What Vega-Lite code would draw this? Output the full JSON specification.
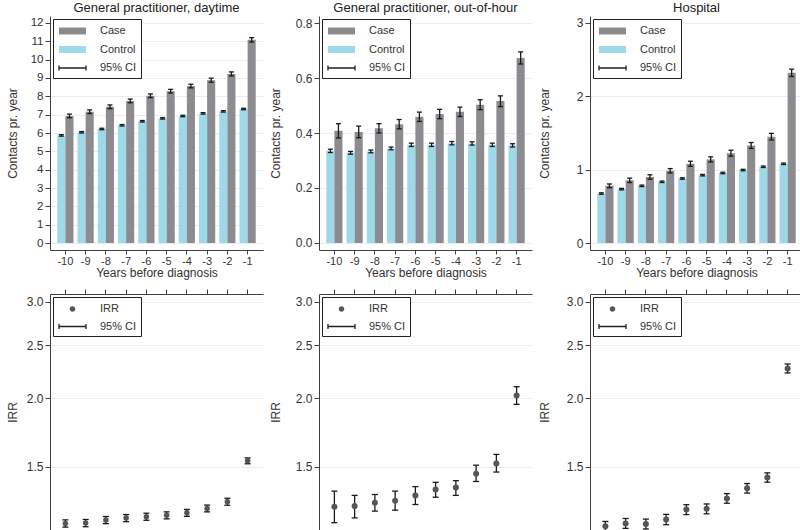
{
  "$schema": "https://vega.github.io/schema/vega-lite/v6.json",
  "padding": {"left": 6, "top": 2, "right": 0, "bottom": 0},
  "config": {
    "font": "Liberation Sans",
    "view": {"stroke": null},
    "axis": {"domainColor": "#404040", "tickColor": "#404040", "labelColor": "#333333", "titleColor": "#333333", "labelFontSize": 12, "titleFontSize": 12, "titleFontWeight": "normal", "tickSize": 5, "gridColor": "#ececec", "labelPadding": 2, "labelOverlap": false},
    "axisX": {"grid": false, "labelAngle": 0},
    "title": {"fontSize": 13, "fontWeight": "normal", "color": "#222222", "offset": 1},
    "legend": {"orient": "top-left", "offset": 3, "title": null, "strokeColor": "#222222", "fillColor": "white", "padding": 4, "symbolSize": 196, "labelOffset": 27, "rowPadding": 3.5, "labelFontSize": 11, "labelColor": "#333333"}
  },
  "datasets": {
    "gpd": [
      {"year": -10, "group": "Control", "value": 5.87, "lo": 5.83, "hi": 5.91}, {"year": -10, "group": "Case", "value": 6.93, "lo": 6.83, "hi": 7.03},
      {"year": -9, "group": "Control", "value": 6.04, "lo": 6.0, "hi": 6.08}, {"year": -9, "group": "Case", "value": 7.16, "lo": 7.06, "hi": 7.26},
      {"year": -8, "group": "Control", "value": 6.22, "lo": 6.18, "hi": 6.26}, {"year": -8, "group": "Case", "value": 7.43, "lo": 7.33, "hi": 7.53},
      {"year": -7, "group": "Control", "value": 6.42, "lo": 6.38, "hi": 6.46}, {"year": -7, "group": "Case", "value": 7.75, "lo": 7.65, "hi": 7.85},
      {"year": -6, "group": "Control", "value": 6.64, "lo": 6.6, "hi": 6.68}, {"year": -6, "group": "Case", "value": 8.03, "lo": 7.93, "hi": 8.13},
      {"year": -5, "group": "Control", "value": 6.8, "lo": 6.76, "hi": 6.84}, {"year": -5, "group": "Case", "value": 8.28, "lo": 8.18, "hi": 8.38},
      {"year": -4, "group": "Control", "value": 6.93, "lo": 6.89, "hi": 6.97}, {"year": -4, "group": "Case", "value": 8.56, "lo": 8.46, "hi": 8.66},
      {"year": -3, "group": "Control", "value": 7.07, "lo": 7.03, "hi": 7.11}, {"year": -3, "group": "Case", "value": 8.88, "lo": 8.77, "hi": 8.99},
      {"year": -2, "group": "Control", "value": 7.18, "lo": 7.14, "hi": 7.22}, {"year": -2, "group": "Case", "value": 9.22, "lo": 9.11, "hi": 9.33},
      {"year": -1, "group": "Control", "value": 7.31, "lo": 7.27, "hi": 7.35}, {"year": -1, "group": "Case", "value": 11.08, "lo": 10.96, "hi": 11.2}
    ],
    "gpo": [
      {"year": -10, "group": "Control", "value": 0.335, "lo": 0.329, "hi": 0.341}, {"year": -10, "group": "Case", "value": 0.408, "lo": 0.382, "hi": 0.434},
      {"year": -9, "group": "Control", "value": 0.328, "lo": 0.323, "hi": 0.333}, {"year": -9, "group": "Case", "value": 0.404, "lo": 0.383, "hi": 0.425},
      {"year": -8, "group": "Control", "value": 0.333, "lo": 0.328, "hi": 0.338}, {"year": -8, "group": "Case", "value": 0.417, "lo": 0.4, "hi": 0.434},
      {"year": -7, "group": "Control", "value": 0.344, "lo": 0.339, "hi": 0.349}, {"year": -7, "group": "Case", "value": 0.432, "lo": 0.415, "hi": 0.449},
      {"year": -6, "group": "Control", "value": 0.357, "lo": 0.351, "hi": 0.363}, {"year": -6, "group": "Case", "value": 0.459, "lo": 0.442, "hi": 0.476},
      {"year": -5, "group": "Control", "value": 0.357, "lo": 0.351, "hi": 0.363}, {"year": -5, "group": "Case", "value": 0.469, "lo": 0.452, "hi": 0.486},
      {"year": -4, "group": "Control", "value": 0.363, "lo": 0.357, "hi": 0.369}, {"year": -4, "group": "Case", "value": 0.477, "lo": 0.46, "hi": 0.494},
      {"year": -3, "group": "Control", "value": 0.362, "lo": 0.356, "hi": 0.368}, {"year": -3, "group": "Case", "value": 0.503, "lo": 0.485, "hi": 0.521},
      {"year": -2, "group": "Control", "value": 0.357, "lo": 0.351, "hi": 0.363}, {"year": -2, "group": "Case", "value": 0.516, "lo": 0.496, "hi": 0.535},
      {"year": -1, "group": "Control", "value": 0.355, "lo": 0.349, "hi": 0.361}, {"year": -1, "group": "Case", "value": 0.673, "lo": 0.651, "hi": 0.695}
    ],
    "hos": [
      {"year": -10, "group": "Control", "value": 0.675, "lo": 0.665, "hi": 0.685}, {"year": -10, "group": "Case", "value": 0.78, "lo": 0.755, "hi": 0.805},
      {"year": -9, "group": "Control", "value": 0.735, "lo": 0.725, "hi": 0.745}, {"year": -9, "group": "Case", "value": 0.855, "lo": 0.825, "hi": 0.885},
      {"year": -8, "group": "Control", "value": 0.78, "lo": 0.77, "hi": 0.79}, {"year": -8, "group": "Case", "value": 0.9, "lo": 0.87, "hi": 0.93},
      {"year": -7, "group": "Control", "value": 0.835, "lo": 0.825, "hi": 0.845}, {"year": -7, "group": "Case", "value": 0.985, "lo": 0.955, "hi": 1.015},
      {"year": -6, "group": "Control", "value": 0.88, "lo": 0.87, "hi": 0.89}, {"year": -6, "group": "Case", "value": 1.08, "lo": 1.045, "hi": 1.115},
      {"year": -5, "group": "Control", "value": 0.925, "lo": 0.915, "hi": 0.935}, {"year": -5, "group": "Case", "value": 1.14, "lo": 1.105, "hi": 1.175},
      {"year": -4, "group": "Control", "value": 0.955, "lo": 0.945, "hi": 0.965}, {"year": -4, "group": "Case", "value": 1.225, "lo": 1.185, "hi": 1.265},
      {"year": -3, "group": "Control", "value": 0.995, "lo": 0.985, "hi": 1.005}, {"year": -3, "group": "Case", "value": 1.33, "lo": 1.29, "hi": 1.37},
      {"year": -2, "group": "Control", "value": 1.04, "lo": 1.03, "hi": 1.05}, {"year": -2, "group": "Case", "value": 1.45, "lo": 1.405, "hi": 1.495},
      {"year": -1, "group": "Control", "value": 1.08, "lo": 1.07, "hi": 1.09}, {"year": -1, "group": "Case", "value": 2.32, "lo": 2.27, "hi": 2.37}
    ],
    "irr1": [
      {"year": -10, "series": "IRR", "irr": 1.182, "lo": 1.164, "hi": 1.2},
      {"year": -9, "series": "IRR", "irr": 1.184, "lo": 1.166, "hi": 1.202},
      {"year": -8, "series": "IRR", "irr": 1.199, "lo": 1.181, "hi": 1.217},
      {"year": -7, "series": "IRR", "irr": 1.209, "lo": 1.191, "hi": 1.227},
      {"year": -6, "series": "IRR", "irr": 1.216, "lo": 1.198, "hi": 1.234},
      {"year": -5, "series": "IRR", "irr": 1.223, "lo": 1.205, "hi": 1.241},
      {"year": -4, "series": "IRR", "irr": 1.236, "lo": 1.218, "hi": 1.254},
      {"year": -3, "series": "IRR", "irr": 1.259, "lo": 1.241, "hi": 1.277},
      {"year": -2, "series": "IRR", "irr": 1.295, "lo": 1.276, "hi": 1.314},
      {"year": -1, "series": "IRR", "irr": 1.538, "lo": 1.519, "hi": 1.557}
    ],
    "irr2": [
      {"year": -10, "series": "IRR", "irr": 1.268, "lo": 1.186, "hi": 1.354},
      {"year": -9, "series": "IRR", "irr": 1.272, "lo": 1.21, "hi": 1.33},
      {"year": -8, "series": "IRR", "irr": 1.29, "lo": 1.245, "hi": 1.335},
      {"year": -7, "series": "IRR", "irr": 1.3, "lo": 1.25, "hi": 1.354},
      {"year": -6, "series": "IRR", "irr": 1.33, "lo": 1.28, "hi": 1.38},
      {"year": -5, "series": "IRR", "irr": 1.364, "lo": 1.32, "hi": 1.405},
      {"year": -4, "series": "IRR", "irr": 1.375, "lo": 1.33, "hi": 1.415},
      {"year": -3, "series": "IRR", "irr": 1.457, "lo": 1.41, "hi": 1.51},
      {"year": -2, "series": "IRR", "irr": 1.521, "lo": 1.467, "hi": 1.58},
      {"year": -1, "series": "IRR", "irr": 2.024, "lo": 1.95, "hi": 2.1}
    ],
    "irr3": [
      {"year": -10, "series": "IRR", "irr": 1.168, "lo": 1.145, "hi": 1.192},
      {"year": -9, "series": "IRR", "irr": 1.182, "lo": 1.158, "hi": 1.207},
      {"year": -8, "series": "IRR", "irr": 1.179, "lo": 1.155, "hi": 1.204},
      {"year": -7, "series": "IRR", "irr": 1.202, "lo": 1.176, "hi": 1.228},
      {"year": -6, "series": "IRR", "irr": 1.253, "lo": 1.227, "hi": 1.279},
      {"year": -5, "series": "IRR", "irr": 1.257, "lo": 1.231, "hi": 1.283},
      {"year": -4, "series": "IRR", "irr": 1.313, "lo": 1.287, "hi": 1.34},
      {"year": -3, "series": "IRR", "irr": 1.37, "lo": 1.343, "hi": 1.398},
      {"year": -2, "series": "IRR", "irr": 1.434, "lo": 1.406, "hi": 1.462},
      {"year": -1, "series": "IRR", "irr": 2.267, "lo": 2.225, "hi": 2.31}
    ]
  },
  "vconcat": [
    {
      "hconcat": [
        {
          "title": "General practitioner, daytime",
          "width": 213, "height": 234,
          "data": {"name": "gpd"},
          "encoding": {
            "x": {"field": "year", "type": "ordinal", "scale": {"paddingInner": 0.2, "paddingOuter": 0.36}, "axis": {"title": "Years before diagnosis", "tickSize": 4, "labelPadding": 1, "labelFontSize": 11, "titlePadding": 1}},
            "xOffset": {"field": "group", "type": "nominal", "sort": ["Control", "Case"], "scale": {"domain": ["Control", "Case"], "paddingInner": 0, "paddingOuter": 0}}
          },
          "layer": [
            {"mark": {"type": "bar"}, "encoding": {
              "y": {"field": "value", "type": "quantitative", "scale": {"domain": [-0.38, 12.38], "nice": false, "zero": false}, "axis": {"title": "Contacts pr. year", "values": [0,1,2,3,4,5,6,7,8,9,10,11,12], "tickCount": 13, "format": "d", "grid": true, "labelOverlap": false, "labelFontSize": 11.5, "minExtent": 25, "maxExtent": 25, "titlePadding": 6}},
              "y2": {"datum": 0},
              "color": {"field": "group", "type": "nominal", "scale": {"domain": ["Case", "Control", "95% CI"], "range": ["#8c8c90", "#9dd9e8", "#222222"]},
                "legend": {"encode": {"symbols": {"update": {
                  "shape": {"signal": "datum.value == '95% CI' ? 'M-0.86,-0.35V0.35M-0.86,0H3M3,-0.35V0.35' : 'M-0.86,-0.5H3V0.5H-0.86Z'"},
                  "fill": {"signal": "datum.value == 'Case' ? '#8c8c90' : datum.value == 'Control' ? '#9dd9e8' : 'transparent'"},
                  "stroke": {"signal": "datum.value == '95% CI' ? '#222222' : 'transparent'"},
                  "strokeWidth": {"value": 1.3}, "opacity": {"value": 1}}}}}}
            }},
            {"mark": {"type": "rule", "color": "#1a1a1a", "strokeWidth": 1.3}, "encoding": {"y": {"field": "lo", "type": "quantitative"}, "y2": {"field": "hi"}}},
            {"mark": {"type": "tick", "color": "#1a1a1a", "size": 5, "thickness": 1.3, "opacity": 1}, "encoding": {"y": {"field": "lo", "type": "quantitative"}}},
            {"mark": {"type": "tick", "color": "#1a1a1a", "size": 5, "thickness": 1.3, "opacity": 1}, "encoding": {"y": {"field": "hi", "type": "quantitative"}}}
          ]
        },
        {
          "title": "General practitioner, out-of-hour",
          "width": 213, "height": 234,
          "data": {"name": "gpo"},
          "encoding": {
            "x": {"field": "year", "type": "ordinal", "scale": {"paddingInner": 0.2, "paddingOuter": 0.36}, "axis": {"title": "Years before diagnosis", "tickSize": 4, "labelPadding": 1, "labelFontSize": 11, "titlePadding": 1}},
            "xOffset": {"field": "group", "type": "nominal", "sort": ["Control", "Case"], "scale": {"domain": ["Control", "Case"], "paddingInner": 0, "paddingOuter": 0}}
          },
          "layer": [
            {"mark": {"type": "bar"}, "encoding": {
              "y": {"field": "value", "type": "quantitative", "scale": {"domain": [-0.0255, 0.8255], "nice": false, "zero": false}, "axis": {"title": "Contacts pr. year", "values": [0, 0.2, 0.4, 0.6, 0.8], "tickCount": 5, "format": ".1f", "grid": true, "labelOverlap": false, "minExtent": 25, "maxExtent": 25, "titlePadding": 12}},
              "y2": {"datum": 0},
              "color": {"field": "group", "type": "nominal", "scale": {"domain": ["Case", "Control", "95% CI"], "range": ["#8c8c90", "#9dd9e8", "#222222"]},
                "legend": {"encode": {"symbols": {"update": {
                  "shape": {"signal": "datum.value == '95% CI' ? 'M-0.86,-0.35V0.35M-0.86,0H3M3,-0.35V0.35' : 'M-0.86,-0.5H3V0.5H-0.86Z'"},
                  "fill": {"signal": "datum.value == 'Case' ? '#8c8c90' : datum.value == 'Control' ? '#9dd9e8' : 'transparent'"},
                  "stroke": {"signal": "datum.value == '95% CI' ? '#222222' : 'transparent'"},
                  "strokeWidth": {"value": 1.3}, "opacity": {"value": 1}}}}}}
            }},
            {"mark": {"type": "rule", "color": "#1a1a1a", "strokeWidth": 1.3}, "encoding": {"y": {"field": "lo", "type": "quantitative"}, "y2": {"field": "hi"}}},
            {"mark": {"type": "tick", "color": "#1a1a1a", "size": 5, "thickness": 1.3, "opacity": 1}, "encoding": {"y": {"field": "lo", "type": "quantitative"}}},
            {"mark": {"type": "tick", "color": "#1a1a1a", "size": 5, "thickness": 1.3, "opacity": 1}, "encoding": {"y": {"field": "hi", "type": "quantitative"}}}
          ]
        },
        {
          "title": "Hospital",
          "width": 213, "height": 234,
          "data": {"name": "hos"},
          "encoding": {
            "x": {"field": "year", "type": "ordinal", "scale": {"paddingInner": 0.2, "paddingOuter": 0.36}, "axis": {"title": "Years before diagnosis", "tickSize": 4, "labelPadding": 1, "labelFontSize": 11, "titlePadding": 1}},
            "xOffset": {"field": "group", "type": "nominal", "sort": ["Control", "Case"], "scale": {"domain": ["Control", "Case"], "paddingInner": 0, "paddingOuter": 0}}
          },
          "layer": [
            {"mark": {"type": "bar"}, "encoding": {
              "y": {"field": "value", "type": "quantitative", "scale": {"domain": [-0.095, 3.095], "nice": false, "zero": false}, "axis": {"title": "Contacts pr. year", "values": [0, 1, 2, 3], "tickCount": 4, "format": "d", "grid": true, "labelOverlap": false, "minExtent": 25, "maxExtent": 25, "titlePadding": 14}},
              "y2": {"datum": 0},
              "color": {"field": "group", "type": "nominal", "scale": {"domain": ["Case", "Control", "95% CI"], "range": ["#8c8c90", "#9dd9e8", "#222222"]},
                "legend": {"encode": {"symbols": {"update": {
                  "shape": {"signal": "datum.value == '95% CI' ? 'M-0.86,-0.35V0.35M-0.86,0H3M3,-0.35V0.35' : 'M-0.86,-0.5H3V0.5H-0.86Z'"},
                  "fill": {"signal": "datum.value == 'Case' ? '#8c8c90' : datum.value == 'Control' ? '#9dd9e8' : 'transparent'"},
                  "stroke": {"signal": "datum.value == '95% CI' ? '#222222' : 'transparent'"},
                  "strokeWidth": {"value": 1.3}, "opacity": {"value": 1}}}}}}
            }},
            {"mark": {"type": "rule", "color": "#1a1a1a", "strokeWidth": 1.3}, "encoding": {"y": {"field": "lo", "type": "quantitative"}, "y2": {"field": "hi"}}},
            {"mark": {"type": "tick", "color": "#1a1a1a", "size": 5, "thickness": 1.3, "opacity": 1}, "encoding": {"y": {"field": "lo", "type": "quantitative"}}},
            {"mark": {"type": "tick", "color": "#1a1a1a", "size": 5, "thickness": 1.3, "opacity": 1}, "encoding": {"y": {"field": "hi", "type": "quantitative"}}}
          ]
        }
      ],
      "spacing": 6,
      "resolve": {"scale": {"color": "independent", "y": "independent", "x": "independent", "xOffset": "independent"}, "legend": {"color": "independent"}}
    },
    {
      "hconcat": [
        {
          "width": 213, "height": 236,
          "data": {"name": "irr1"},
          "encoding": {"x": {"field": "year", "type": "ordinal", "scale": {"paddingInner": 0.2, "paddingOuter": 0.36}, "axis": {"orient": "top", "labels": false, "title": null, "tickSize": 5}}},
          "layer": [
            {"mark": {"type": "bar", "opacity": 0, "clip": true}, "encoding": {
              "y": {"field": "irr", "type": "quantitative", "scale": {"type": "log", "domain": [1.15, 3.1], "nice": false}, "axis": {"title": "IRR", "values": [1.5, 2, 2.5, 3], "tickCount": 4, "format": ".1f", "grid": true, "labelOverlap": false, "minExtent": 25, "maxExtent": 25, "titlePadding": 6}},
              "y2": {"field": "irr"},
              "color": {"field": "series", "type": "nominal", "scale": {"domain": ["IRR", "95% CI"], "range": ["#555555", "#222222"]},
                "legend": {"encode": {"symbols": {"update": {
                  "shape": {"signal": "datum.value == '95% CI' ? 'M-0.86,-0.35V0.35M-0.86,0H3M3,-0.35V0.35' : 'M0.67,0A0.4,0.4,0,1,1,1.47,0A0.4,0.4,0,1,1,0.67,0Z'"},
                  "fill": {"signal": "datum.value == 'IRR' ? '#8a8a8a' : 'transparent'"},
                  "stroke": {"signal": "datum.value == '95% CI' ? '#222222' : 'transparent'"},
                  "strokeWidth": {"value": 1.3}, "opacity": {"value": 1}}}}}}
            }},
            {"mark": {"type": "rule", "color": "#1a1a1a", "strokeWidth": 1.3, "clip": true}, "encoding": {"y": {"field": "lo", "type": "quantitative"}, "y2": {"field": "hi"}}},
            {"mark": {"type": "tick", "color": "#1a1a1a", "size": 6, "thickness": 1.3, "opacity": 1, "clip": true}, "encoding": {"y": {"field": "lo", "type": "quantitative"}}},
            {"mark": {"type": "tick", "color": "#1a1a1a", "size": 6, "thickness": 1.3, "opacity": 1, "clip": true}, "encoding": {"y": {"field": "hi", "type": "quantitative"}}},
            {"mark": {"type": "point", "filled": true, "size": 30, "opacity": 1, "color": "#555555", "clip": true}, "encoding": {"y": {"field": "irr", "type": "quantitative"}}}
          ]
        },
        {
          "width": 213, "height": 236,
          "data": {"name": "irr2"},
          "encoding": {"x": {"field": "year", "type": "ordinal", "scale": {"paddingInner": 0.2, "paddingOuter": 0.36}, "axis": {"orient": "top", "labels": false, "title": null, "tickSize": 5}}},
          "layer": [
            {"mark": {"type": "bar", "opacity": 0, "clip": true}, "encoding": {
              "y": {"field": "irr", "type": "quantitative", "scale": {"type": "log", "domain": [1.15, 3.1], "nice": false}, "axis": {"title": "IRR", "values": [1.5, 2, 2.5, 3], "tickCount": 4, "format": ".1f", "grid": true, "labelOverlap": false, "minExtent": 25, "maxExtent": 25, "titlePadding": 12}},
              "y2": {"field": "irr"},
              "color": {"field": "series", "type": "nominal", "scale": {"domain": ["IRR", "95% CI"], "range": ["#555555", "#222222"]},
                "legend": {"encode": {"symbols": {"update": {
                  "shape": {"signal": "datum.value == '95% CI' ? 'M-0.86,-0.35V0.35M-0.86,0H3M3,-0.35V0.35' : 'M0.67,0A0.4,0.4,0,1,1,1.47,0A0.4,0.4,0,1,1,0.67,0Z'"},
                  "fill": {"signal": "datum.value == 'IRR' ? '#8a8a8a' : 'transparent'"},
                  "stroke": {"signal": "datum.value == '95% CI' ? '#222222' : 'transparent'"},
                  "strokeWidth": {"value": 1.3}, "opacity": {"value": 1}}}}}}
            }},
            {"mark": {"type": "rule", "color": "#1a1a1a", "strokeWidth": 1.3, "clip": true}, "encoding": {"y": {"field": "lo", "type": "quantitative"}, "y2": {"field": "hi"}}},
            {"mark": {"type": "tick", "color": "#1a1a1a", "size": 6, "thickness": 1.3, "opacity": 1, "clip": true}, "encoding": {"y": {"field": "lo", "type": "quantitative"}}},
            {"mark": {"type": "tick", "color": "#1a1a1a", "size": 6, "thickness": 1.3, "opacity": 1, "clip": true}, "encoding": {"y": {"field": "hi", "type": "quantitative"}}},
            {"mark": {"type": "point", "filled": true, "size": 36, "opacity": 1, "color": "#555555", "clip": true}, "encoding": {"y": {"field": "irr", "type": "quantitative"}}}
          ]
        },
        {
          "width": 213, "height": 236,
          "data": {"name": "irr3"},
          "encoding": {"x": {"field": "year", "type": "ordinal", "scale": {"paddingInner": 0.2, "paddingOuter": 0.36}, "axis": {"orient": "top", "labels": false, "title": null, "tickSize": 5}}},
          "layer": [
            {"mark": {"type": "bar", "opacity": 0, "clip": true}, "encoding": {
              "y": {"field": "irr", "type": "quantitative", "scale": {"type": "log", "domain": [1.15, 3.1], "nice": false}, "axis": {"title": "IRR", "values": [1.5, 2, 2.5, 3], "tickCount": 4, "format": ".1f", "grid": true, "labelOverlap": false, "minExtent": 25, "maxExtent": 25, "titlePadding": 14}},
              "y2": {"field": "irr"},
              "color": {"field": "series", "type": "nominal", "scale": {"domain": ["IRR", "95% CI"], "range": ["#555555", "#222222"]},
                "legend": {"encode": {"symbols": {"update": {
                  "shape": {"signal": "datum.value == '95% CI' ? 'M-0.86,-0.35V0.35M-0.86,0H3M3,-0.35V0.35' : 'M0.67,0A0.4,0.4,0,1,1,1.47,0A0.4,0.4,0,1,1,0.67,0Z'"},
                  "fill": {"signal": "datum.value == 'IRR' ? '#8a8a8a' : 'transparent'"},
                  "stroke": {"signal": "datum.value == '95% CI' ? '#222222' : 'transparent'"},
                  "strokeWidth": {"value": 1.3}, "opacity": {"value": 1}}}}}}
            }},
            {"mark": {"type": "rule", "color": "#1a1a1a", "strokeWidth": 1.3, "clip": true}, "encoding": {"y": {"field": "lo", "type": "quantitative"}, "y2": {"field": "hi"}}},
            {"mark": {"type": "tick", "color": "#1a1a1a", "size": 6, "thickness": 1.3, "opacity": 1, "clip": true}, "encoding": {"y": {"field": "lo", "type": "quantitative"}}},
            {"mark": {"type": "tick", "color": "#1a1a1a", "size": 6, "thickness": 1.3, "opacity": 1, "clip": true}, "encoding": {"y": {"field": "hi", "type": "quantitative"}}},
            {"mark": {"type": "point", "filled": true, "size": 36, "opacity": 1, "color": "#555555", "clip": true}, "encoding": {"y": {"field": "irr", "type": "quantitative"}}}
          ]
        }
      ],
      "spacing": 6,
      "resolve": {"scale": {"color": "independent", "y": "independent", "x": "independent"}, "legend": {"color": "independent"}}
    }
  ],
  "spacing": 10,
  "resolve": {"scale": {"color": "independent", "y": "independent", "x": "independent"}, "legend": {"color": "independent"}}
}
